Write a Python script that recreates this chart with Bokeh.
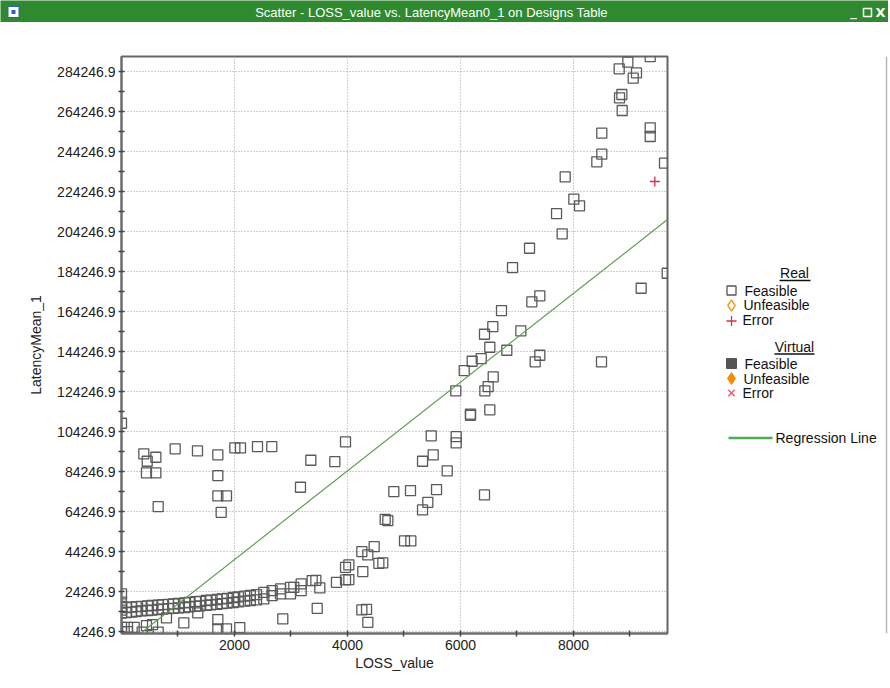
from bokeh.plotting import figure
from bokeh.models import Range1d, FixedTicker, PrintfTickFormatter
from bokeh.layouts import column, row
from bokeh.embed import file_html
from bokeh.resources import INLINE
from bokeh.core.properties import value

# ---------------- data ----------------
title_text = "Scatter - LOSS_value vs. LatencyMean0_1 on Designs Table"
x_label = "LOSS_value"
y_label = "LatencyMean_1"

x_ticks = [2000, 4000, 6000, 8000]
x_minor = [1000, 3000, 5000, 7000, 9000]
y_ticks = [4246.9, 24246.9, 44246.9, 64246.9, 84246.9, 104246.9, 124246.9, 144246.9,
           164246.9, 184246.9, 204246.9, 224246.9, 244246.9, 264246.9, 284246.9]
y_minor = [14246.9, 34246.9, 54246.9, 74246.9, 94246.9, 114246.9, 134246.9, 154246.9,
           174246.9, 194246.9, 214246.9, 234246.9, 254246.9, 274246.9]

# Real / Feasible - high cloud (upper right)
high_x = [9358, 8962, 8809, 9115, 9057, 8856, 8815, 8862, 8501, 9358, 9358, 8501, 8413, 9611,
          7853, 8006, 8107, 7700, 7800, 7222, 6921, 9659, 9198, 7404, 7263, 6726, 6572, 6425,
          7068, 6519, 6820, 6207, 6367, 7404, 7322, 8496, 6066, 6579, 6490, 6431, 5917, 6519,
          6177, 6177, 5482, 5924, 5924, 5517, 5328, 5765, 4820, 5115, 5576, 6425, 5422, 5328,
          4667, 4714, 5009, 5121, 4625, 4555]
high_y = [291700, 288900, 285600, 283600, 280900, 272750, 271100, 264750, 253400, 256100,
          251750, 242900, 239100, 238400, 231600, 220400, 217100, 213250, 203100, 195900,
          186250, 183400, 175900, 172100, 169100, 164750, 156750, 152900, 154600, 146400,
          144900, 139400, 140750, 142400, 139100, 139100, 134750, 131600, 126750, 124600,
          124600, 115100, 112400, 113000, 102100, 101750, 98600, 92600, 89400, 84600,
          74250, 74750, 75250, 72600, 68900, 65100, 60400, 59750, 49600, 49600, 38600, 38400]

# Real / Feasible - left cluster around 60000-110000
mid_x = [0, 395, 455, 608, 442, 608, 649, 950, 1345, 1705, 1705, 1705, 1858, 1764,
         2006, 2106, 2407, 2660, 3351, 3776, 3965, 3168]
mid_y = [108400, 93100, 89400, 91400, 83600, 83600, 66750, 95600, 94600, 92600, 82250,
         72100, 72100, 63900, 96100, 96100, 96750, 96750, 89900, 89250, 99100, 76400]

# Real / Feasible - low points
low_x = [4254, 4360, 4472, 3965, 4024, 4271, 3965, 4024, 3805, 3375, 3440, 3510, 3464,
         2855, 4254, 4337, 4360, 2094, 1705, 1705, 1858, 1103, 796, 549, 442, 649, 366,
         1350, 224, 0, 0, 0, 0, 0, 0, 0, 106, 106,
         2519, 2519, 2667, 2667, 2814, 2814, 2991, 3050, 2991, 3180, 3180]
low_y = [44250, 42600, 46750, 36400, 37600, 34250, 30100, 30250, 28900, 29750, 29900,
         26100, 15900, 10600, 15100, 15400, 8900, 6250, 10250, 5600, 5600, 8600, 11100,
         7750, 7250, 4000, 4000, 13600, 6400, 23100, 19000, 16800, 15000, 13500, 6400,
         4246.9, 6400, 4246.9,
         23900, 20600, 24750, 22250, 25600, 23100, 26400, 26400, 23100, 28100, 24750]

# Real / Feasible - dense rising band (two rows)
band_x = [90, 180, 260, 350, 460, 540, 650, 730, 830, 920, 1010, 1120, 1200, 1310, 1390,
          1500, 1580, 1690, 1780, 1870, 1980, 2070, 2180, 2280, 2390]
band_upper = [16300, 16500, 16700, 16900, 17100, 17300, 17500, 17700, 17900, 18100, 18300,
              18600, 18900, 19200, 19400, 19800, 20000, 20300, 20600, 20900, 21300, 21600,
              22000, 22300, 22700]
band_lower = [13700, 14000, 14300, 14600, 14800, 15000, 15300, 15500, 15700, 15900, 16100,
              16300, 16600, 16900, 17100, 17400, 17600, 17900, 18200, 18500, 18800, 19100,
              19500, 19800, 20100]

# Real / Error
err_x = [9440]
err_y = [229250]

# Regression line end points
reg_x = [300, 9659]
reg_y = [2560, 210100]

FONT = "Liberation Sans"

# ---------------- title bar ----------------
tb = figure(width=888, height=22, x_range=Range1d(0, 888), y_range=Range1d(22, 0),
            x_axis_location=None, y_axis_location=None, min_border=0,
            output_backend="svg", toolbar_location=None,
            background_fill_color="#2f8a2f", border_fill_color="#2f8a2f",
            outline_line_color=None)
tb.grid.visible = False
tb.text(x=[431], y=[12], text=[title_text], text_color="white",
        text_font=value(FONT), text_font_size="13px",
        text_align="center", text_baseline="middle")
tb.rect(x=[13], y=[11.5], width=11, height=11, fill_color="white",
        line_color="#3060c0", line_width=1)
tb.rect(x=[13], y=[11.5], width=4, height=4, fill_color="#3060c0", line_color=None)
tb.text(x=[853, 880], y=[11, 12], text=["_", "X"], text_color="white",
        text_font=value("DejaVu Sans"), text_font_style="bold", text_font_size="13px",
        text_align="center", text_baseline="middle")
tb.rect(x=[867], y=[12], width=8, height=8, fill_color=None,
        line_color="white", line_width=1.5)

# ---------------- main scatter ----------------
p = figure(width=672, height=664, x_range=Range1d(0, 9664), y_range=Range1d(3300, 291750),
           min_border_left=121, min_border_right=5, min_border_top=34, min_border_bottom=53,
           output_backend="svg", toolbar_location=None,
           background_fill_color="white", border_fill_color="white")
p.outline_line_color = "#666666"
p.outline_line_width = 2

p.xaxis.ticker = FixedTicker(ticks=x_ticks, minor_ticks=x_minor)
p.yaxis.ticker = FixedTicker(ticks=y_ticks, minor_ticks=y_minor)
p.yaxis.formatter = PrintfTickFormatter(format="%.1f")
p.xaxis.formatter = PrintfTickFormatter(format="%d")

p.xaxis.axis_label = x_label
p.yaxis.axis_label = y_label
for ax in (p.xaxis, p.yaxis):
    ax.axis_line_color = "#6e6e6e"
    ax.axis_line_width = 2
    ax.major_tick_line_color = "#444444"
    ax.minor_tick_line_color = "#444444"
    ax.major_tick_line_width = 1.5
    ax.minor_tick_line_width = 1.5
    ax.major_tick_in = 3
    ax.major_tick_out = 3
    ax.minor_tick_in = 3
    ax.minor_tick_out = 3
    ax.major_label_text_font = FONT
    ax.major_label_text_font_size = "14px"
    ax.major_label_text_color = "#222222"
    ax.major_label_standoff = 3
    ax.axis_label_text_font = FONT
    ax.axis_label_text_font_size = "14px"
    ax.axis_label_text_font_style = "normal"
    ax.axis_label_text_color = "#222222"
p.xaxis.axis_label_standoff = 2
p.yaxis.axis_label_standoff = 10

p.grid.grid_line_color = "#a0a0a0"
p.grid.grid_line_dash = "1 2"
p.grid.grid_line_width = 1

sq_style = dict(marker="square", size=10, fill_color=None, line_color="#5a5a5a",
                line_width=1.3)
p.scatter(band_x, band_upper, **sq_style)
p.scatter(band_x, band_lower, **sq_style)
p.scatter(low_x, low_y, **sq_style)
p.scatter(mid_x, mid_y, **sq_style)
p.scatter(high_x, high_y, **sq_style)
p.line(reg_x, reg_y, line_color="#5f9e50", line_width=1.2)
p.scatter(err_x, err_y, marker="cross", size=10, line_color="#d8304a", line_width=1.3)

# ---------------- legend panel ----------------
# In a row, Bokeh aligns this figure's frame with the main frame (page y 56..633),
# so the ranges below are expressed in page pixels of that frame.
lg = figure(width=216, height=664, x_range=Range1d(672, 888), y_range=Range1d(633, 56),
            x_axis_location=None, y_axis_location=None, min_border=0,
            output_backend="svg", toolbar_location=None, outline_line_color=None,
            background_fill_color="white", border_fill_color="white")
lg.grid.visible = False

lg.text(x=[794, 794], y=[272, 346], text=["Real", "Virtual"], text_font=value(FONT),
        text_font_size="14px", text_color="#111111", text_align="center",
        text_baseline="middle")
lg.segment(x0=[779, 774], y0=[280, 353.5], x1=[810, 814], y1=[280, 353.5],
           line_color="#111111", line_width=1.5)

lg.scatter([731], [290], marker="square", size=9, fill_color=None,
           line_color="#555555", line_width=1.3)
lg.scatter([731], [305], marker="diamond", size=11, fill_color=None,
           line_color="#f0a030", line_width=1.5)
lg.scatter([731], [320.5], marker="cross", size=10, line_color="#d8304a", line_width=1.3)
lg.scatter([731], [363], marker="square", size=10, fill_color="#555555",
           line_color="#555555")
lg.scatter([731], [378], marker="diamond", size=12, fill_color="#f28c0a",
           line_color="#f28c0a")
lg.scatter([731], [392.5], marker="x", size=9, line_color="#e8607a", line_width=1.5)
lg.segment(x0=[728], y0=[437.5], x1=[772], y1=[437.5], line_color="#4cae4c",
           line_width=2.5)
# window edge on the right
lg.segment(x0=[886], y0=[56], x1=[886], y1=[633], line_color="#b8b8b8", line_width=1.5)

lg.text(x=[744, 743, 742, 744, 743, 742, 775],
        y=[290, 304.5, 319.5, 363, 378, 392.5, 437.5],
        text=["Feasible", "Unfeasible", "Error", "Feasible", "Unfeasible", "Error",
              "Regression Line"],
        text_font=value(FONT), text_font_size="14px", text_color="#111111",
        text_align="left", text_baseline="middle")

layout = column(tb, row(p, lg))
open("out.html", "w").write(file_html(layout, INLINE))
